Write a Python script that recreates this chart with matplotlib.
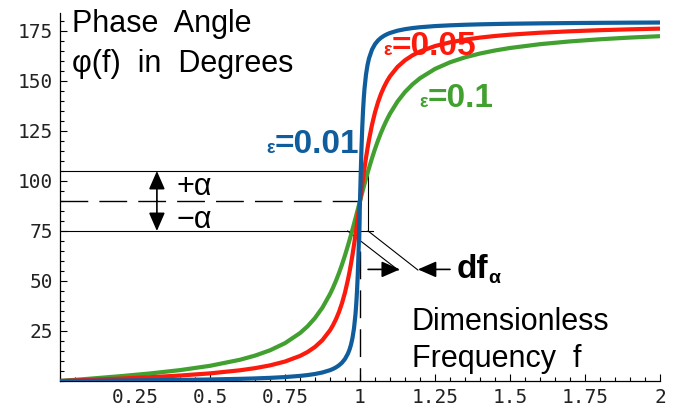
import numpy as np
import matplotlib
matplotlib.use("Agg")
import matplotlib.pyplot as plt
from matplotlib.ticker import MultipleLocator, FixedLocator

# frequency samples (dimensionless) and phase angle, in degrees
freq = [0, 0.1, 0.2, 0.3, 0.4, 0.5, 0.6, 0.65, 0.7, 0.75,
        0.8, 0.825, 0.85, 0.875, 0.9, 0.91, 0.92, 0.93, 0.94, 0.95,
        0.96, 0.965, 0.97, 0.975, 0.98, 0.985, 0.9875, 0.99, 0.9925, 0.995,
        0.9975, 1.0, 1.0025, 1.005, 1.0075, 1.01, 1.0125, 1.015, 1.02, 1.025,
        1.03, 1.04, 1.05, 1.06, 1.07, 1.08, 1.09, 1.1, 1.125, 1.15,
        1.175, 1.2, 1.25, 1.3, 1.35, 1.4, 1.45, 1.5, 1.6, 1.7,
        1.8, 1.9, 2.0]
phase_001 = [0, 0.12, 0.24, 0.38, 0.55, 0.76, 1.07, 1.29, 1.57, 1.96,
             2.55, 2.96, 3.51, 4.27, 5.41, 6.04, 6.83, 7.84, 9.17, 11.03,
             13.77, 15.68, 18.17, 21.55, 26.33, 33.49, 38.48, 44.86, 53.03, 63.39,
             75.95, 90.0, 104.02, 116.56, 126.77, 134.86, 141.17, 146.11, 153.21, 157.95,
             161.32, 165.70, 168.42, 170.27, 171.60, 172.60, 173.39, 174.02, 175.16, 175.92,
             176.47, 176.88, 177.46, 177.84, 178.12, 178.33, 178.49, 178.63, 178.82, 178.97,
             179.08, 179.17, 179.24]
phase_005 = [0, 0.58, 1.19, 1.89, 2.73, 3.81, 5.36, 6.42, 7.81, 9.73,
             12.53, 14.48, 17.03, 20.47, 25.35, 27.90, 30.92, 34.54, 38.92, 44.26,
             50.77, 54.52, 58.65, 63.14, 68.00, 73.18, 75.88, 78.64, 81.44, 84.28,
             87.13, 90.0, 92.86, 95.70, 98.50, 101.25, 103.95, 106.58, 111.60, 116.29,
             120.59, 128.12, 134.31, 139.38, 143.56, 147.00, 149.91, 152.35, 157.05, 160.37,
             162.84, 164.74, 167.47, 169.33, 170.68, 171.70, 172.51, 173.16, 174.14, 174.86,
             175.41, 175.84, 176.19]
phase_01 = [0, 1.16, 2.39, 3.77, 5.44, 7.59, 10.62, 12.69, 15.35, 18.92,
            23.96, 27.32, 31.49, 36.75, 43.45, 46.64, 50.15, 54.01, 58.24, 62.84,
            67.79, 70.38, 73.06, 75.79, 78.58, 81.41, 82.83, 84.26, 85.69, 87.13,
            88.57, 90.0, 91.43, 92.85, 94.27, 95.68, 97.08, 98.47, 101.20, 103.87,
            106.47, 111.42, 116.02, 120.25, 124.11, 127.61, 130.79, 133.67, 139.73, 144.51,
            148.31, 151.39, 156.04, 159.35, 161.83, 163.74, 165.26, 166.50, 168.41, 169.80,
            170.87, 171.72, 172.41]

eps_labels = ["=0.01", "=0.05", "=0.1"]
x_ticks = [0.25, 0.5, 0.75, 1, 1.25, 1.5, 1.75, 2]
x_ticklabels = ["0.25", "0.5", "0.75", "1", "1.25", "1.5", "1.75", "2"]
y_ticks = [25, 50, 75, 100, 125, 150, 175]

blue = "#0f5d9c"
red = "#fb1a0c"
green = "#41a02f"

fig = plt.figure(figsize=(6.79, 4.07), dpi=100)
ax = fig.add_axes([60 / 679, 26 / 407, 600 / 679, 368 / 407])
ax.set_xlim(0, 2)
ax.set_ylim(0, 184)

for s in ["top", "right"]:
    ax.spines[s].set_visible(False)
for s in ["left", "bottom"]:
    ax.spines[s].set_linewidth(0.9)

ax.xaxis.set_major_locator(FixedLocator(x_ticks))
ax.xaxis.set_minor_locator(MultipleLocator(0.05))
ax.set_xticklabels(x_ticklabels)
ax.yaxis.set_major_locator(FixedLocator(y_ticks))
ax.yaxis.set_minor_locator(MultipleLocator(5))
ax.tick_params(which="both", direction="in", width=0.8)
ax.tick_params(which="major", length=5)
ax.tick_params(which="minor", length=3)
ax.tick_params(axis="y", pad=5)
ax.tick_params(axis="x", pad=5)
for lab in ax.get_xticklabels() + ax.get_yticklabels():
    lab.set_fontfamily("DejaVu Sans Mono")
    lab.set_fontsize(14)
    lab.set_color("#222222")

# curves
ax.plot(freq, phase_01, color=green, lw=3, solid_capstyle="butt", zorder=3)
ax.plot(freq, phase_005, color=red, lw=3, solid_capstyle="butt", zorder=3)
ax.plot(freq, phase_001, color=blue, lw=3, solid_capstyle="butt", zorder=3)

# +/- alpha band
ax.plot([0, 1.027], [105, 105], color="black", lw=0.8, zorder=2)
ax.plot([1.027, 1.027], [75, 105], color="black", lw=0.8, zorder=2)
ax.plot([0, 1.043], [75, 75], color="black", lw=0.8, zorder=2)
ax.plot([0, 1, 1], [90, 90, 0], color="black", lw=1.0, dashes=(20, 8), zorder=2)

# diagonal guide lines down to df arrows
ax.plot([0.959, 1.127], [75, 55.5], color="black", lw=0.8, zorder=2)
ax.plot([1.027, 1.193], [75, 55.5], color="black", lw=0.8, zorder=2)

arrow = dict(arrowstyle="-|>,head_length=0.8,head_width=0.35", color="black",
             lw=1.2, shrinkA=0, shrinkB=0, mutation_scale=14)
ax.annotate("", xy=(0.323, 105), xytext=(0.323, 90), arrowprops=arrow)
ax.annotate("", xy=(0.323, 75), xytext=(0.323, 90), arrowprops=arrow)
ax.annotate("", xy=(1.133, 55.8), xytext=(1.027, 55.8), arrowprops=arrow)
ax.annotate("", xy=(1.193, 55.8), xytext=(1.30, 55.8), arrowprops=arrow)

sans = "Liberation Sans"
ax.text(0.39, 93, "+\u03b1", fontsize=22, family=sans, va="baseline")
ax.text(0.39, 76.5, "\u2212\u03b1", fontsize=22, family=sans, va="baseline")
ax.text(1.323, 51.5, "df", fontsize=24, family=sans, weight="bold", va="baseline")
ax.text(1.428, 49.0, "\u03b1", fontsize=14, family=sans, weight="bold", va="baseline")

ax.text(0.04, 174.5, "Phase  Angle", fontsize=22, family=sans, va="baseline")
ax.text(0.04, 154.5, "\u03c6(f)  in  Degrees", fontsize=22, family=sans, va="baseline")
ax.text(1.173, 25.5, "Dimensionless", fontsize=22, family=sans, va="baseline")
ax.text(1.173, 7.2, "Frequency  f", fontsize=22, family=sans, va="baseline")

# epsilon labels
label_pos = [(0.717, 114, blue), (1.107, 163, red), (1.227, 137, green)]
for txt, (lx, ly, c) in zip(eps_labels, label_pos):
    ax.text(lx, ly, "\u03b5", fontsize=13, family=sans, weight="bold",
            color=c, ha="right", va="baseline", zorder=5)
    ax.text(lx, ly, txt, fontsize=24, family=sans, weight="bold",
            color=c, ha="left", va="baseline", zorder=5)

fig.savefig("out.png", dpi=100)
